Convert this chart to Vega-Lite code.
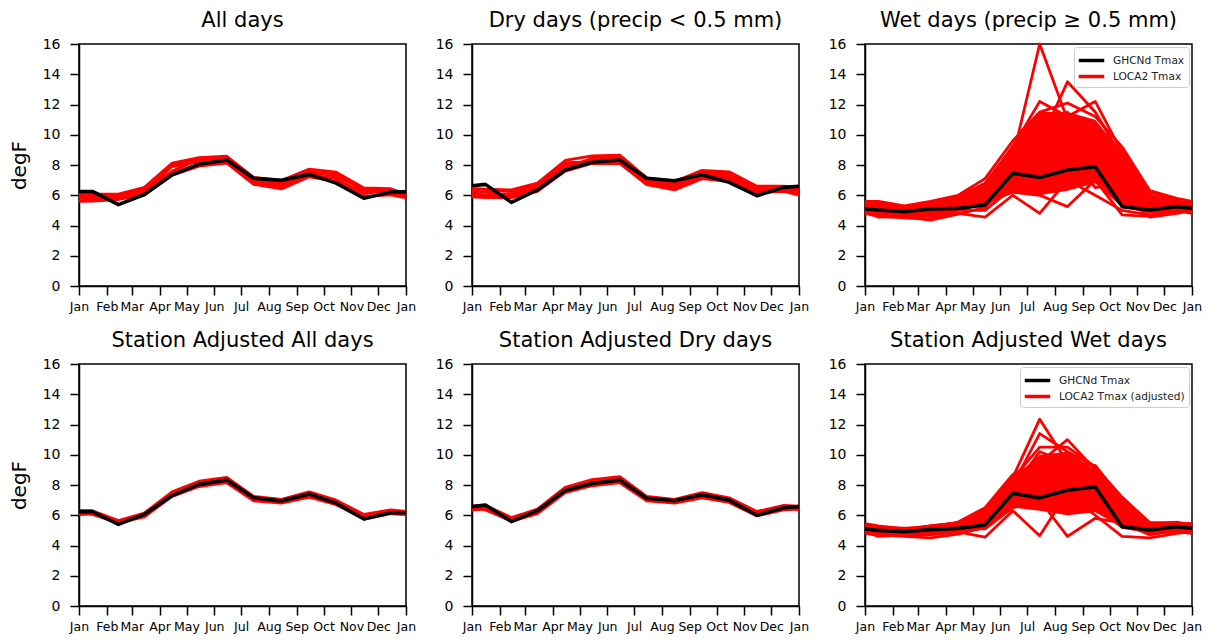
{
"$schema": "https://vega.github.io/schema/vega-lite/v6.json",
"background": "white",
"padding": {"left": 8, "top": 9, "right": 5, "bottom": 5},
"config": {
 "font": "DejaVu Sans",
 "view": {"stroke": "black", "strokeWidth": 1.5},
 "axis": {"domainColor": "black", "domainWidth": 1.5, "tickColor": "black", "tickWidth": 1.5, "tickSize": 9, "labelColor": "black", "grid": false, "titleColor": "black", "titleFontWeight": "normal", "labelFont": "DejaVu Sans", "titleFont": "DejaVu Sans"},
 "axisX": {"labelFontSize": 12.5, "labelPadding": 5},
 "axisY": {"labelFontSize": 14, "labelPadding": 10, "titleFontSize": 20, "titlePadding": 13},
 "title": {"fontSize": 21, "fontWeight": "normal", "color": "black", "font": "DejaVu Sans", "offset": 6},
 "line": {"strokeJoin": "round"}
},
"data": {"values": [
 {"p":1,"d":1,"g":6.25,"m1":5.6,"m2":6.18,"m3":5.8,"m4":6.0,"m5":5.9,"m6":6.1},
 {"p":1,"d":16,"g":6.25,"m1":5.62,"m2":6.08,"m3":5.75,"m4":5.95,"m5":5.85,"m6":5.7},
 {"p":1,"d":45,"g":5.38,"m1":5.72,"m2":6.08,"m3":5.95,"m4":5.8,"m5":6.05,"m6":5.9},
 {"p":1,"d":74,"g":6.05,"m1":6.02,"m2":6.53,"m3":6.35,"m4":6.2,"m5":6.45,"m6":6.1},
 {"p":1,"d":105,"g":7.35,"m1":7.32,"m2":8.13,"m3":7.9,"m4":7.6,"m5":7.5,"m6":8.0},
 {"p":1,"d":135,"g":8.05,"m1":7.92,"m2":8.48,"m3":8.2,"m4":8.35,"m5":8.05,"m6":8.4},
 {"p":1,"d":166,"g":8.33,"m1":8.12,"m2":8.58,"m3":8.35,"m4":8.5,"m5":8.25,"m6":8.45},
 {"p":1,"d":196,"g":7.12,"m1":6.72,"m2":7.18,"m3":6.9,"m4":7.05,"m5":6.8,"m6":7.1},
 {"p":1,"d":227,"g":6.99,"m1":6.42,"m2":6.98,"m3":6.6,"m4":6.85,"m5":6.5,"m6":6.7},
 {"p":1,"d":258,"g":7.38,"m1":7.22,"m2":7.73,"m3":7.5,"m4":7.35,"m5":7.6,"m6":7.3},
 {"p":1,"d":288,"g":6.8,"m1":6.92,"m2":7.53,"m3":7.4,"m4":7.1,"m5":7.25,"m6":7.5},
 {"p":1,"d":319,"g":5.8,"m1":5.92,"m2":6.48,"m3":6.3,"m4":6.1,"m5":6.4,"m6":6.2},
 {"p":1,"d":349,"g":6.22,"m1":6.02,"m2":6.43,"m3":6.2,"m4":6.35,"m5":6.1,"m6":6.4},
 {"p":1,"d":366,"g":6.22,"m1":5.82,"m2":6.08,"m3":5.95,"m4":6.05,"m5":5.9,"m6":6.0},

 {"p":2,"d":1,"g":6.63,"m1":5.9,"m2":6.45,"m3":6.1,"m4":6.3,"m5":6.0,"m6":6.2},
 {"p":2,"d":16,"g":6.72,"m1":5.85,"m2":6.4,"m3":6.0,"m4":6.2,"m5":6.3,"m6":5.95},
 {"p":2,"d":45,"g":5.53,"m1":5.85,"m2":6.35,"m3":6.1,"m4":5.95,"m5":6.25,"m6":6.0},
 {"p":2,"d":74,"g":6.35,"m1":6.25,"m2":6.8,"m3":6.55,"m4":6.4,"m5":6.7,"m6":6.35},
 {"p":2,"d":105,"g":7.67,"m1":7.6,"m2":8.3,"m3":8.0,"m4":7.8,"m5":8.15,"m6":7.7},
 {"p":2,"d":135,"g":8.18,"m1":8.1,"m2":8.6,"m3":8.3,"m4":8.45,"m5":8.2,"m6":8.35},
 {"p":2,"d":166,"g":8.33,"m1":8.1,"m2":8.65,"m3":8.35,"m4":8.55,"m5":8.25,"m6":8.45},
 {"p":2,"d":196,"g":7.12,"m1":6.7,"m2":7.15,"m3":6.85,"m4":7.05,"m5":6.95,"m6":6.75},
 {"p":2,"d":227,"g":6.96,"m1":6.35,"m2":6.9,"m3":6.5,"m4":6.75,"m5":6.6,"m6":6.45},
 {"p":2,"d":258,"g":7.36,"m1":7.1,"m2":7.65,"m3":7.4,"m4":7.25,"m5":7.55,"m6":7.2},
 {"p":2,"d":288,"g":6.85,"m1":6.9,"m2":7.55,"m3":7.3,"m4":7.05,"m5":7.45,"m6":7.2},
 {"p":2,"d":319,"g":5.97,"m1":6.15,"m2":6.6,"m3":6.4,"m4":6.25,"m5":6.5,"m6":6.3},
 {"p":2,"d":349,"g":6.52,"m1":6.25,"m2":6.6,"m3":6.4,"m4":6.5,"m5":6.3,"m6":6.55},
 {"p":2,"d":366,"g":6.6,"m1":6.0,"m2":6.45,"m3":6.15,"m4":6.35,"m5":6.05,"m6":6.3},

 {"p":3,"d":1,"g":5.09,"lo":4.8,"hi":5.6,"m1":5.3,"m2":5.5,"m3":5.2,"m4":5.6,"m5":5.0,"m6":5.4,"m7":4.9,"m8":5.1,"m9":4.8,"m10":4.9,"m11":5.2,"m12":5.0,"m13":5.3,"m14":5.1},
 {"p":3,"d":16,"g":5.02,"lo":4.6,"hi":5.5,"m1":5.2,"m2":5.4,"m3":5.5,"m4":5.6,"m5":4.9,"m6":5.3,"m7":4.8,"m8":5.0,"m9":4.6,"m10":4.7,"m11":5.1,"m12":4.55,"m13":5.1,"m14":4.9},
 {"p":3,"d":45,"g":4.91,"lo":4.6,"hi":5.2,"m1":5.0,"m2":5.1,"m3":5.2,"m4":5.3,"m5":4.8,"m6":5.0,"m7":4.9,"m8":4.7,"m9":4.5,"m10":4.6,"m11":4.9,"m12":4.6,"m13":5.1,"m14":4.8},
 {"p":3,"d":74,"g":5.09,"lo":4.6,"hi":5.5,"m1":5.2,"m2":5.4,"m3":5.5,"m4":5.6,"m5":5.0,"m6":5.1,"m7":4.8,"m8":5.3,"m9":4.4,"m10":4.6,"m11":4.9,"m12":4.35,"m13":5.0,"m14":5.2},
 {"p":3,"d":105,"g":5.13,"lo":5.0,"hi":5.9,"m1":5.5,"m2":5.8,"m3":5.9,"m4":6.0,"m5":5.3,"m6":5.6,"m7":5.2,"m8":5.4,"m9":5.0,"m10":4.8,"m11":5.1,"m12":4.75,"m13":5.4,"m14":5.7},
 {"p":3,"d":135,"g":5.36,"lo":5.3,"hi":6.8,"m1":6.2,"m2":6.6,"m3":6.8,"m4":7.1,"m5":6.0,"m6":6.5,"m7":5.8,"m8":6.3,"m9":5.0,"m10":4.55,"m11":5.5,"m12":5.2,"m13":5.9,"m14":6.4},
 {"p":3,"d":166,"g":7.45,"lo":6.2,"hi":9.4,"m1":8.5,"m2":8.8,"m3":9.2,"m4":9.6,"m5":8.0,"m6":9.0,"m7":7.5,"m8":8.6,"m9":6.5,"m10":6.0,"m11":6.2,"m12":7.0,"m13":8.0,"m14":7.2},
 {"p":3,"d":196,"g":7.18,"lo":6.0,"hi":11.5,"m1":16.0,"m2":9.5,"m3":12.2,"m4":11.5,"m5":10.5,"m6":11.0,"m7":9.0,"m8":10.0,"m9":8.0,"m10":4.8,"m11":6.0,"m12":7.0,"m13":9.8,"m14":8.5},
 {"p":3,"d":227,"g":7.67,"lo":6.3,"hi":11.5,"m1":11.0,"m2":13.5,"m3":11.2,"m4":12.1,"m5":10.0,"m6":9.5,"m7":11.5,"m8":8.5,"m9":7.5,"m10":7.0,"m11":5.25,"m12":6.5,"m13":10.5,"m14":9.0},
 {"p":3,"d":258,"g":7.89,"lo":6.8,"hi":11.0,"m1":10.5,"m2":11.5,"m3":12.2,"m4":11.2,"m5":10.0,"m6":10.8,"m7":9.0,"m8":9.5,"m9":8.5,"m10":6.0,"m11":7.0,"m12":7.5,"m13":8.0,"m14":6.5},
 {"p":3,"d":288,"g":5.25,"lo":5.2,"hi":8.8,"m1":8.0,"m2":8.5,"m3":8.8,"m4":9.2,"m5":9.0,"m6":8.2,"m7":7.5,"m8":7.8,"m9":6.5,"m10":5.0,"m11":4.7,"m12":6.0,"m13":8.5,"m14":6.8},
 {"p":3,"d":319,"g":5.02,"lo":4.8,"hi":6.0,"m1":5.8,"m2":6.0,"m3":6.2,"m4":6.3,"m5":6.0,"m6":5.6,"m7":5.4,"m8":5.8,"m9":5.0,"m10":4.7,"m11":4.6,"m12":4.55,"m13":5.9,"m14":5.2},
 {"p":3,"d":349,"g":5.25,"lo":4.9,"hi":5.6,"m1":5.5,"m2":5.6,"m3":5.7,"m4":5.8,"m5":5.4,"m6":5.5,"m7":5.2,"m8":5.3,"m9":5.0,"m10":4.9,"m11":4.85,"m12":4.8,"m13":5.6,"m14":5.1},
 {"p":3,"d":366,"g":5.13,"lo":4.85,"hi":5.55,"m1":5.3,"m2":5.5,"m3":5.2,"m4":5.6,"m5":5.0,"m6":5.4,"m7":4.9,"m8":5.1,"m9":4.8,"m10":4.9,"m11":5.2,"m12":5.0,"m13":5.3,"m14":5.1},

 {"p":4,"d":1,"g":6.24,"m1":6.05,"m2":6.3,"m3":6.15,"m4":6.1,"m5":6.2,"m6":6.25},
 {"p":4,"d":16,"g":6.24,"m1":6.1,"m2":6.3,"m3":6.2,"m4":6.15,"m5":6.05,"m6":6.25},
 {"p":4,"d":45,"g":5.4,"m1":5.5,"m2":5.65,"m3":5.6,"m4":5.55,"m5":5.5,"m6":5.45},
 {"p":4,"d":74,"g":6.06,"m1":5.9,"m2":6.15,"m3":6.0,"m4":6.1,"m5":5.95,"m6":6.05},
 {"p":4,"d":105,"g":7.3,"m1":7.25,"m2":7.55,"m3":7.4,"m4":7.45,"m5":7.35,"m6":7.5},
 {"p":4,"d":135,"g":8.04,"m1":7.9,"m2":8.25,"m3":8.15,"m4":8.0,"m5":8.1,"m6":8.2},
 {"p":4,"d":166,"g":8.33,"m1":8.15,"m2":8.5,"m3":8.3,"m4":8.4,"m5":8.25,"m6":8.45},
 {"p":4,"d":196,"g":7.16,"m1":6.95,"m2":7.25,"m3":7.1,"m4":7.0,"m5":7.2,"m6":7.05},
 {"p":4,"d":227,"g":6.94,"m1":6.8,"m2":7.05,"m3":6.9,"m4":6.85,"m5":7.0,"m6":6.95},
 {"p":4,"d":258,"g":7.4,"m1":7.2,"m2":7.55,"m3":7.45,"m4":7.3,"m5":7.5,"m6":7.35},
 {"p":4,"d":288,"g":6.8,"m1":6.7,"m2":7.0,"m3":6.9,"m4":6.85,"m5":6.95,"m6":6.75},
 {"p":4,"d":319,"g":5.75,"m1":5.75,"m2":6.05,"m3":5.95,"m4":5.85,"m5":6.0,"m6":5.9},
 {"p":4,"d":349,"g":6.17,"m1":6.1,"m2":6.35,"m3":6.25,"m4":6.2,"m5":6.3,"m6":6.15},
 {"p":4,"d":366,"g":6.17,"m1":6.05,"m2":6.25,"m3":6.1,"m4":6.15,"m5":6.2,"m6":6.1},

 {"p":5,"d":1,"g":6.57,"m1":6.35,"m2":6.6,"m3":6.45,"m4":6.5,"m5":6.4,"m6":6.55},
 {"p":5,"d":16,"g":6.68,"m1":6.4,"m2":6.65,"m3":6.5,"m4":6.55,"m5":6.45,"m6":6.35},
 {"p":5,"d":45,"g":5.58,"m1":5.6,"m2":5.85,"m3":5.75,"m4":5.7,"m5":5.8,"m6":5.65},
 {"p":5,"d":74,"g":6.3,"m1":6.1,"m2":6.4,"m3":6.25,"m4":6.2,"m5":6.3,"m6":6.15},
 {"p":5,"d":105,"g":7.63,"m1":7.5,"m2":7.85,"m3":7.7,"m4":7.6,"m5":7.8,"m6":7.65},
 {"p":5,"d":135,"g":8.1,"m1":7.95,"m2":8.35,"m3":8.2,"m4":8.25,"m5":8.1,"m6":8.3},
 {"p":5,"d":166,"g":8.33,"m1":8.15,"m2":8.55,"m3":8.35,"m4":8.45,"m5":8.3,"m6":8.4},
 {"p":5,"d":196,"g":7.12,"m1":6.95,"m2":7.25,"m3":7.05,"m4":7.1,"m5":7.0,"m6":7.15},
 {"p":5,"d":227,"g":6.96,"m1":6.8,"m2":7.05,"m3":6.9,"m4":6.85,"m5":6.95,"m6":7.0},
 {"p":5,"d":258,"g":7.36,"m1":7.15,"m2":7.5,"m3":7.4,"m4":7.3,"m5":7.45,"m6":7.25},
 {"p":5,"d":288,"g":7.0,"m1":6.85,"m2":7.15,"m3":7.05,"m4":7.0,"m5":6.95,"m6":7.1},
 {"p":5,"d":319,"g":6.0,"m1":5.95,"m2":6.25,"m3":6.1,"m4":6.05,"m5":6.15,"m6":6.2},
 {"p":5,"d":349,"g":6.5,"m1":6.35,"m2":6.65,"m3":6.5,"m4":6.55,"m5":6.45,"m6":6.6},
 {"p":5,"d":366,"g":6.57,"m1":6.4,"m2":6.6,"m3":6.5,"m4":6.45,"m5":6.55,"m6":6.35},

 {"p":6,"d":1,"g":5.09,"lo":4.85,"hi":5.4,"m1":5.45,"m2":5.3,"m3":5.2,"m4":5.0,"m5":4.9,"m6":5.1,"m7":4.8,"m8":4.9,"m9":5.3,"m10":5.0,"m11":5.2,"m12":5.4,"m13":5.0,"m14":5.1},
 {"p":6,"d":16,"g":5.0,"lo":4.7,"hi":5.25,"m1":5.3,"m2":5.2,"m3":5.1,"m4":4.9,"m5":4.8,"m6":5.0,"m7":4.7,"m8":4.6,"m9":5.0,"m10":4.9,"m11":5.1,"m12":5.2,"m13":4.8,"m14":5.0},
 {"p":6,"d":45,"g":4.91,"lo":4.7,"hi":5.1,"m1":5.1,"m2":5.15,"m3":5.0,"m4":4.9,"m5":4.8,"m6":4.7,"m7":4.6,"m8":4.7,"m9":4.9,"m10":5.0,"m11":4.8,"m12":5.0,"m13":4.8,"m14":4.9},
 {"p":6,"d":74,"g":5.05,"lo":4.7,"hi":5.25,"m1":5.3,"m2":5.2,"m3":5.1,"m4":4.9,"m5":5.0,"m6":4.8,"m7":4.5,"m8":4.7,"m9":5.2,"m10":5.1,"m11":5.0,"m12":5.3,"m13":4.9,"m14":5.0},
 {"p":6,"d":105,"g":5.13,"lo":4.9,"hi":5.5,"m1":5.5,"m2":5.55,"m3":5.4,"m4":5.3,"m5":5.0,"m6":5.2,"m7":4.75,"m8":4.9,"m9":5.1,"m10":5.3,"m11":5.4,"m12":5.5,"m13":5.0,"m14":5.2},
 {"p":6,"d":135,"g":5.36,"lo":5.1,"hi":6.3,"m1":6.3,"m2":6.5,"m3":6.0,"m4":5.8,"m5":5.5,"m6":5.6,"m7":5.2,"m8":4.55,"m9":5.1,"m10":5.9,"m11":6.1,"m12":6.4,"m13":5.4,"m14":5.7},
 {"p":6,"d":166,"g":7.45,"lo":6.5,"hi":8.4,"m1":8.5,"m2":8.7,"m3":8.0,"m4":7.8,"m5":7.2,"m6":7.5,"m7":6.8,"m8":6.3,"m9":6.5,"m10":8.2,"m11":7.0,"m12":8.4,"m13":6.6,"m14":7.8},
 {"p":6,"d":196,"g":7.15,"lo":6.3,"hi":10.0,"m1":12.35,"m2":9.5,"m3":11.4,"m4":10.2,"m5":8.5,"m6":9.5,"m7":7.5,"m8":4.65,"m9":7.0,"m10":9.0,"m11":8.0,"m12":10.5,"m13":6.5,"m14":8.8},
 {"p":6,"d":227,"g":7.65,"lo":6.0,"hi":10.2,"m1":9.5,"m2":11.0,"m3":10.2,"m4":9.5,"m5":10.0,"m6":8.0,"m7":8.8,"m8":7.5,"m9":4.6,"m10":9.8,"m11":7.0,"m12":10.5,"m13":6.5,"m14":8.5},
 {"p":6,"d":258,"g":7.87,"lo":6.2,"hi":9.0,"m1":9.3,"m2":9.0,"m3":9.2,"m4":8.8,"m5":8.5,"m6":9.0,"m7":7.5,"m8":6.0,"m9":5.8,"m10":8.2,"m11":7.0,"m12":9.2,"m13":6.6,"m14":7.8},
 {"p":6,"d":288,"g":5.25,"lo":5.2,"hi":6.9,"m1":7.0,"m2":6.8,"m3":6.5,"m4":6.9,"m5":6.2,"m6":6.6,"m7":5.8,"m8":4.6,"m9":5.5,"m10":7.0,"m11":6.0,"m12":7.2,"m13":5.2,"m14":6.3},
 {"p":6,"d":319,"g":5.02,"lo":4.8,"hi":5.4,"m1":5.5,"m2":5.4,"m3":5.3,"m4":5.2,"m5":5.1,"m6":5.0,"m7":4.8,"m8":4.5,"m9":4.7,"m10":5.3,"m11":5.2,"m12":5.5,"m13":4.9,"m14":5.1},
 {"p":6,"d":349,"g":5.25,"lo":4.9,"hi":5.45,"m1":5.5,"m2":5.55,"m3":5.3,"m4":5.2,"m5":5.0,"m6":5.1,"m7":4.9,"m8":4.8,"m9":5.0,"m10":5.2,"m11":5.4,"m12":5.5,"m13":5.0,"m14":5.2},
 {"p":6,"d":366,"g":5.13,"lo":4.85,"hi":5.4,"m1":5.45,"m2":5.3,"m3":5.2,"m4":5.0,"m5":4.9,"m6":5.1,"m7":4.8,"m8":4.9,"m9":5.3,"m10":5.0,"m11":5.2,"m12":5.4,"m13":5.0,"m14":5.1}
]},
"columns": 3,
"spacing": {"row": 78, "column": 66},
"bounds": "flush",
"resolve": {"scale": {"color": "independent"}, "legend": {"color": "independent"}},
"concat": [
 {"title": "All days", "width": 327, "height": 242,
  "transform": [{"filter": "datum.p == 1"}],
  "encoding": {"x": {"field": "d", "type": "quantitative", "scale": {"domain": [1, 366], "nice": false, "zero": false}, "axis": {"title": null, "values": [1,32,60,91,121,152,182,213,244,274,305,335,366], "labelExpr": "['Jan','Feb','Mar','Apr','May','Jun','Jul','Aug','Sep','Oct','Nov','Dec','Jan'][indexof([1,32,60,91,121,152,182,213,244,274,305,335,366], datum.value)]", "labelOverlap": false, "labelFlush": false}}},
  "layer": [
   {"transform": [{"fold": ["m1","m2","m3","m4","m5","m6","m7","m8","m9","m10","m11","m12","m13","m14"], "as": ["k","v"]}, {"filter": {"field": "v", "valid": true}}],
    "mark": {"type": "line", "strokeWidth": 2.8, "color": "red"},
    "encoding": {"y": {"field": "v", "type": "quantitative", "scale": {"domain": [0, 16], "nice": false}, "axis": {"title": "degF", "values": [0,2,4,6,8,10,12,14,16]}}, "detail": {"field": "k"}}},
   {"mark": {"type": "line", "strokeWidth": 3.6, "color": "black"},
    "encoding": {"y": {"field": "g", "type": "quantitative", "scale": {"domain": [0, 16], "nice": false}, "axis": {"title": "degF", "values": [0,2,4,6,8,10,12,14,16]}}}}
  ]},
 {"title": "Dry days (precip < 0.5 mm)", "width": 327, "height": 242,
  "transform": [{"filter": "datum.p == 2"}],
  "encoding": {"x": {"field": "d", "type": "quantitative", "scale": {"domain": [1, 366], "nice": false, "zero": false}, "axis": {"title": null, "values": [1,32,60,91,121,152,182,213,244,274,305,335,366], "labelExpr": "['Jan','Feb','Mar','Apr','May','Jun','Jul','Aug','Sep','Oct','Nov','Dec','Jan'][indexof([1,32,60,91,121,152,182,213,244,274,305,335,366], datum.value)]", "labelOverlap": false, "labelFlush": false}}},
  "layer": [
   {"transform": [{"fold": ["m1","m2","m3","m4","m5","m6","m7","m8","m9","m10","m11","m12","m13","m14"], "as": ["k","v"]}, {"filter": {"field": "v", "valid": true}}],
    "mark": {"type": "line", "strokeWidth": 2.8, "color": "red"},
    "encoding": {"y": {"field": "v", "type": "quantitative", "scale": {"domain": [0, 16], "nice": false}, "axis": {"title": null, "values": [0,2,4,6,8,10,12,14,16]}}, "detail": {"field": "k"}}},
   {"mark": {"type": "line", "strokeWidth": 3.6, "color": "black"},
    "encoding": {"y": {"field": "g", "type": "quantitative", "scale": {"domain": [0, 16], "nice": false}, "axis": {"title": null, "values": [0,2,4,6,8,10,12,14,16]}}}}
  ]},
 {"title": "Wet days (precip ≥ 0.5 mm)", "width": 327, "height": 242,
  "transform": [{"filter": "datum.p == 3"}],
  "encoding": {"x": {"field": "d", "type": "quantitative", "scale": {"domain": [1, 366], "nice": false, "zero": false}, "axis": {"title": null, "values": [1,32,60,91,121,152,182,213,244,274,305,335,366], "labelExpr": "['Jan','Feb','Mar','Apr','May','Jun','Jul','Aug','Sep','Oct','Nov','Dec','Jan'][indexof([1,32,60,91,121,152,182,213,244,274,305,335,366], datum.value)]", "labelOverlap": false, "labelFlush": false}}},
  "layer": [
   {"mark": {"type": "area", "color": "red", "opacity": 1},
    "encoding": {"y": {"field": "lo", "type": "quantitative", "scale": {"domain": [0, 16], "nice": false}, "axis": {"title": null, "values": [0,2,4,6,8,10,12,14,16]}}, "y2": {"field": "hi"}}},
   {"transform": [{"fold": ["m1","m2","m3","m4","m5","m6","m7","m8","m9","m10","m11","m12","m13","m14"], "as": ["k","v"]}, {"filter": {"field": "v", "valid": true}}],
    "mark": {"type": "line", "strokeWidth": 2.8},
    "encoding": {"y": {"field": "v", "type": "quantitative", "scale": {"domain": [0, 16], "nice": false}, "axis": {"title": null, "values": [0,2,4,6,8,10,12,14,16]}}, "detail": {"field": "k"},
     "color": {"datum": "LOCA2 Tmax", "type": "nominal", "scale": {"domain": ["GHCNd Tmax", "LOCA2 Tmax"], "range": ["black", "red"]}, "legend": {"orient": "top-right", "title": null, "symbolType": "M-1.7,0H1.7", "symbolSize": 225, "symbolStrokeWidth": 3.5, "symbolOffset": 4, "labelOffset": 12, "labelFontSize": 10.6, "labelFont": "DejaVu Sans", "labelColor": "#222222", "strokeColor": "#cccccc", "fillColor": "white", "padding": 4, "cornerRadius": 3, "offset": 3, "rowPadding": 0}}}},
   {"mark": {"type": "line", "strokeWidth": 3.6},
    "encoding": {"y": {"field": "g", "type": "quantitative", "scale": {"domain": [0, 16], "nice": false}, "axis": {"title": null, "values": [0,2,4,6,8,10,12,14,16]}}, "color": {"datum": "GHCNd Tmax", "type": "nominal"}}}
  ]},
 {"title": "Station Adjusted All days", "width": 327, "height": 242,
  "transform": [{"filter": "datum.p == 4"}],
  "encoding": {"x": {"field": "d", "type": "quantitative", "scale": {"domain": [1, 366], "nice": false, "zero": false}, "axis": {"title": null, "values": [1,32,60,91,121,152,182,213,244,274,305,335,366], "labelExpr": "['Jan','Feb','Mar','Apr','May','Jun','Jul','Aug','Sep','Oct','Nov','Dec','Jan'][indexof([1,32,60,91,121,152,182,213,244,274,305,335,366], datum.value)]", "labelOverlap": false, "labelFlush": false}}},
  "layer": [
   {"transform": [{"fold": ["m1","m2","m3","m4","m5","m6","m7","m8","m9","m10","m11","m12","m13","m14"], "as": ["k","v"]}, {"filter": {"field": "v", "valid": true}}],
    "mark": {"type": "line", "strokeWidth": 2.8, "color": "red"},
    "encoding": {"y": {"field": "v", "type": "quantitative", "scale": {"domain": [0, 16], "nice": false}, "axis": {"title": "degF", "values": [0,2,4,6,8,10,12,14,16]}}, "detail": {"field": "k"}}},
   {"mark": {"type": "line", "strokeWidth": 3.6, "color": "black"},
    "encoding": {"y": {"field": "g", "type": "quantitative", "scale": {"domain": [0, 16], "nice": false}, "axis": {"title": "degF", "values": [0,2,4,6,8,10,12,14,16]}}}}
  ]},
 {"title": "Station Adjusted Dry days", "width": 327, "height": 242,
  "transform": [{"filter": "datum.p == 5"}],
  "encoding": {"x": {"field": "d", "type": "quantitative", "scale": {"domain": [1, 366], "nice": false, "zero": false}, "axis": {"title": null, "values": [1,32,60,91,121,152,182,213,244,274,305,335,366], "labelExpr": "['Jan','Feb','Mar','Apr','May','Jun','Jul','Aug','Sep','Oct','Nov','Dec','Jan'][indexof([1,32,60,91,121,152,182,213,244,274,305,335,366], datum.value)]", "labelOverlap": false, "labelFlush": false}}},
  "layer": [
   {"transform": [{"fold": ["m1","m2","m3","m4","m5","m6","m7","m8","m9","m10","m11","m12","m13","m14"], "as": ["k","v"]}, {"filter": {"field": "v", "valid": true}}],
    "mark": {"type": "line", "strokeWidth": 2.8, "color": "red"},
    "encoding": {"y": {"field": "v", "type": "quantitative", "scale": {"domain": [0, 16], "nice": false}, "axis": {"title": null, "values": [0,2,4,6,8,10,12,14,16]}}, "detail": {"field": "k"}}},
   {"mark": {"type": "line", "strokeWidth": 3.6, "color": "black"},
    "encoding": {"y": {"field": "g", "type": "quantitative", "scale": {"domain": [0, 16], "nice": false}, "axis": {"title": null, "values": [0,2,4,6,8,10,12,14,16]}}}}
  ]},
 {"title": "Station Adjusted Wet days", "width": 327, "height": 242,
  "transform": [{"filter": "datum.p == 6"}],
  "encoding": {"x": {"field": "d", "type": "quantitative", "scale": {"domain": [1, 366], "nice": false, "zero": false}, "axis": {"title": null, "values": [1,32,60,91,121,152,182,213,244,274,305,335,366], "labelExpr": "['Jan','Feb','Mar','Apr','May','Jun','Jul','Aug','Sep','Oct','Nov','Dec','Jan'][indexof([1,32,60,91,121,152,182,213,244,274,305,335,366], datum.value)]", "labelOverlap": false, "labelFlush": false}}},
  "layer": [
   {"mark": {"type": "area", "color": "red", "opacity": 1},
    "encoding": {"y": {"field": "lo", "type": "quantitative", "scale": {"domain": [0, 16], "nice": false}, "axis": {"title": null, "values": [0,2,4,6,8,10,12,14,16]}}, "y2": {"field": "hi"}}},
   {"transform": [{"fold": ["m1","m2","m3","m4","m5","m6","m7","m8","m9","m10","m11","m12","m13","m14"], "as": ["k","v"]}, {"filter": {"field": "v", "valid": true}}],
    "mark": {"type": "line", "strokeWidth": 2.8},
    "encoding": {"y": {"field": "v", "type": "quantitative", "scale": {"domain": [0, 16], "nice": false}, "axis": {"title": null, "values": [0,2,4,6,8,10,12,14,16]}}, "detail": {"field": "k"},
     "color": {"datum": "LOCA2 Tmax (adjusted)", "type": "nominal", "scale": {"domain": ["GHCNd Tmax", "LOCA2 Tmax (adjusted)"], "range": ["black", "red"]}, "legend": {"orient": "top-right", "title": null, "symbolType": "M-1.7,0H1.7", "symbolSize": 225, "symbolStrokeWidth": 3.5, "symbolOffset": 4, "labelOffset": 12, "labelFontSize": 10.6, "labelFont": "DejaVu Sans", "labelColor": "#222222", "strokeColor": "#cccccc", "fillColor": "white", "padding": 4, "cornerRadius": 3, "offset": 3, "rowPadding": 0}}}},
   {"mark": {"type": "line", "strokeWidth": 3.6},
    "encoding": {"y": {"field": "g", "type": "quantitative", "scale": {"domain": [0, 16], "nice": false}, "axis": {"title": null, "values": [0,2,4,6,8,10,12,14,16]}}, "color": {"datum": "GHCNd Tmax", "type": "nominal"}}}
  ]}
]
}
